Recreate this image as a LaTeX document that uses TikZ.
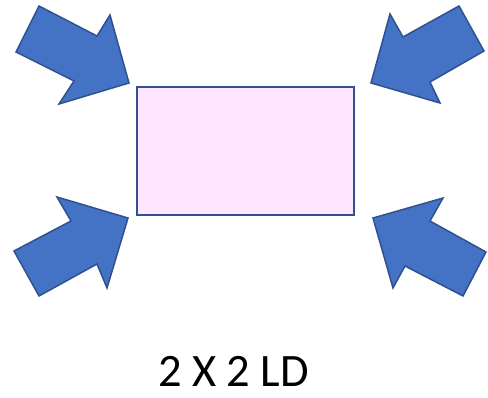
\documentclass[tikz,border=0pt]{standalone}
\usepackage{fontspec}
\setmainfont{Carlito}
\definecolor{arrowfill}{HTML}{4472C4}
\definecolor{arrowline}{HTML}{2F528F}
\definecolor{boxfill}{HTML}{FFE5FF}
\begin{document}
\begin{tikzpicture}[x=1pt,y=-1pt,
  bigarrow/.style={fill=arrowfill,draw=arrowline,line width=1.5pt,line join=miter},
  box/.style={draw=arrowline,fill=boxfill,line width=2pt,rectangle,inner sep=0pt},
  caption/.style={font=\fontsize{46.5}{54}\selectfont,inner sep=0pt,anchor=base}]
\useasboundingbox (0,0) rectangle (488,398);
% box
\node[box,minimum width=217pt,minimum height=128pt] (rect) at (245.5,151) {};
% arrows
\path[bigarrow] (39,6) -- (97,36) -- (110,15) -- (129,83) -- (59,104) -- (74,81) -- (16,52) -- cycle;
\path[bigarrow] (128,218) -- (57,197) -- (71,221) -- (14,251) -- (39,296) -- (97,264) -- (107,288) -- cycle;
\path[bigarrow] (371,83) -- (390,14) -- (403,37) -- (459,6) -- (484,51) -- (430,82) -- (440,103) -- cycle;
\path[bigarrow] (373,218) -- (443,198) -- (430,221) -- (486,252) -- (463,296) -- (405,266) -- (393,288) -- cycle;
% caption
\node[caption] (label) at (233.5,387) {2 X 2 LD};
\end{tikzpicture}
\end{document}
